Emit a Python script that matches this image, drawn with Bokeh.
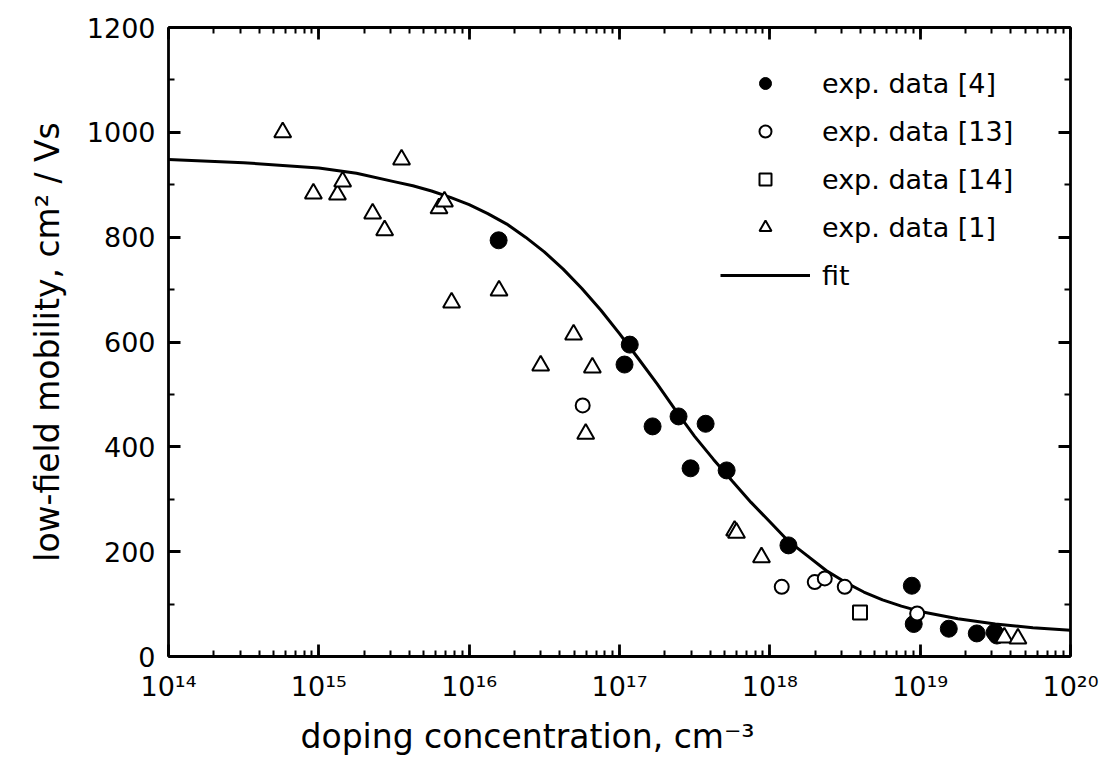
from bokeh.plotting import figure
from bokeh.models import (LogTicker, SingleIntervalTicker, LogAxis, LinearAxis,
                          CustomJSTickFormatter, Legend, LegendItem, Title, Range1d)
from bokeh.embed import file_html
from bokeh.resources import INLINE

# ---- data ----
# exp. data [4]  (solid circles)
n_ref4 = [1.57e16, 1.17e17, 1.08e17, 1.66e17, 2.47e17, 3.74e17, 2.97e17, 5.16e17,
          1.33e18, 8.8e18, 9.06e18, 1.55e19, 2.38e19, 3.13e19, 3.24e19]
mu_ref4 = [794, 595, 557, 439, 458, 444, 359, 355, 212, 135, 62, 53, 44, 46, 40]

# exp. data [13]  (open circles)
n_ref13 = [5.69e16, 1.2e18, 1.99e18, 2.32e18, 3.15e18, 9.55e18]
mu_ref13 = [479, 133, 142, 149, 133, 82]

# exp. data [14]  (open squares)
n_ref14 = [3.98e18]
mu_ref14 = [84]

# exp. data [1]  (open triangles)
n_ref1 = [5.75e14, 9.2e14, 1.33e15, 1.44e15, 2.28e15, 2.74e15, 3.55e15, 6.3e15,
          6.85e15, 7.64e15, 1.58e16, 2.99e16, 4.95e16, 6.6e16, 5.96e16, 5.83e17,
          6.0e17, 8.8e17, 3.63e19, 4.47e19]
mu_ref1 = [1000, 883, 881, 906, 845, 813, 948, 855, 868, 675, 698, 555, 614, 551,
           425, 240, 236, 189, 36, 34]

# fit curve
n_fit = [1e14, 3.16e14, 1e15, 1.78e15, 3.16e15, 4.22e15, 5.62e15, 7.5e15,
         1e16, 1.33e16, 1.78e16, 2.37e16, 3.16e16, 4.22e16, 5.62e16, 7.5e16,
         1e17, 1.33e17, 1.78e17, 2.37e17, 3.16e17, 4.22e17, 5.62e17, 7.5e17,
         1e18, 1.33e18, 1.78e18, 2.37e18, 3.16e18, 4.22e18, 5.62e18, 7.5e18,
         1e19, 1.78e19, 3.16e19, 5.62e19, 1e20]
mu_fit = [948, 942, 932, 922, 906, 898, 888, 876,
          862, 845, 825, 800, 772, 739, 702, 661,
          616, 569, 520, 469, 420, 376, 335, 294,
          257, 220, 192, 164, 142, 123, 108, 96,
          86, 72, 62, 55, 50]

FONT = "DejaVu Sans"

p = figure(width=1102, height=768, x_axis_type="log",
           x_range=Range1d(1e14, 1e20), y_range=Range1d(0, 1200),
           min_border_left=168, min_border_right=32, min_border_top=27,
           min_border_bottom=112, output_backend="svg", toolbar_location=None)
p.grid.visible = False
p.outline_line_color = None
p.background_fill_color = "white"
p.border_fill_color = "white"

xt = LogTicker(num_minor_ticks=10, mantissas=[1])
yt = SingleIntervalTicker(interval=200, num_minor_ticks=2)

sup_code = """
const sup = {"0":"⁰","1":"¹","2":"²","3":"³","4":"⁴","5":"⁵","6":"⁶","7":"⁷","8":"⁸","9":"⁹","-":"⁻"};
const e = Math.round(Math.log10(tick));
return "10" + String(e).split("").map(c => sup[c]).join("");
"""
blank = CustomJSTickFormatter(code="return ''")


def style(ax):
    ax.axis_line_width = 2.8
    ax.axis_line_color = "black"
    ax.major_tick_line_width = 2.8
    ax.minor_tick_line_width = 2
    ax.major_tick_line_color = "black"
    ax.minor_tick_line_color = "black"
    ax.major_tick_in = 12
    ax.major_tick_out = 0
    ax.minor_tick_in = 6
    ax.minor_tick_out = 0
    ax.major_label_text_font = FONT
    ax.major_label_text_color = "black"


bx = p.xaxis[0]
bx.ticker = xt
bx.formatter = CustomJSTickFormatter(code=sup_code)
style(bx)
bx.major_label_text_font_size = "27px"
bx.major_label_standoff = 14

ly = p.yaxis[0]
ly.ticker = yt
style(ly)
ly.major_label_text_font_size = "27px"
ly.major_label_standoff = 13
ly.axis_label = "low-field mobility, cm² / Vs"
ly.axis_label_text_font = FONT
ly.axis_label_text_font_size = "33px"
ly.axis_label_text_font_style = "normal"
ly.axis_label_text_color = "black"
ly.axis_label_standoff = 17

top = LogAxis(ticker=xt, formatter=blank)
style(top)
top.major_label_text_font_size = "1px"
top.major_label_standoff = 0
p.add_layout(top, "above")

right = LinearAxis(ticker=yt, formatter=blank)
style(right)
right.major_label_text_font_size = "1px"
right.major_label_standoff = 0
p.add_layout(right, "right")

xlabel = Title(text="doping concentration, cm⁻³", align="left", offset=132,
               text_font=FONT, text_font_size="33px", text_font_style="normal",
               text_color="black", standoff=21)
p.add_layout(xlabel, "below")

# ---- data glyphs ----
r_fit = p.line(n_fit, mu_fit, line_color="black", line_width=3)
r4 = p.scatter(n_ref4, mu_ref4, marker="circle", size=17,
               fill_color="black", line_color="black")
r13 = p.scatter(n_ref13, mu_ref13, marker="circle", size=14,
                fill_color="white", line_color="black", line_width=2)
r14 = p.scatter(n_ref14, mu_ref14, marker="square", size=14,
                fill_color="white", line_color="black", line_width=2)
r1 = p.scatter(n_ref1, mu_ref1, marker="triangle", size=17,
               fill_color="white", line_color="black", line_width=2)

legend = Legend(items=[
    LegendItem(label="exp. data [4]", renderers=[r4]),
    LegendItem(label="exp. data [13]", renderers=[r13]),
    LegendItem(label="exp. data [14]", renderers=[r14]),
    LegendItem(label="exp. data [1]", renderers=[r1]),
    LegendItem(label="fit", renderers=[r_fit]),
], location=(552, 361), glyph_width=90, glyph_height=30, label_height=40,
    spacing=8, padding=0, margin=0, border_line_color=None,
    background_fill_alpha=0, label_text_font=FONT, label_text_font_size="27px",
    label_standoff=12, label_text_color="black")
p.add_layout(legend)

open("out.html", "w").write(file_html(p, INLINE))
